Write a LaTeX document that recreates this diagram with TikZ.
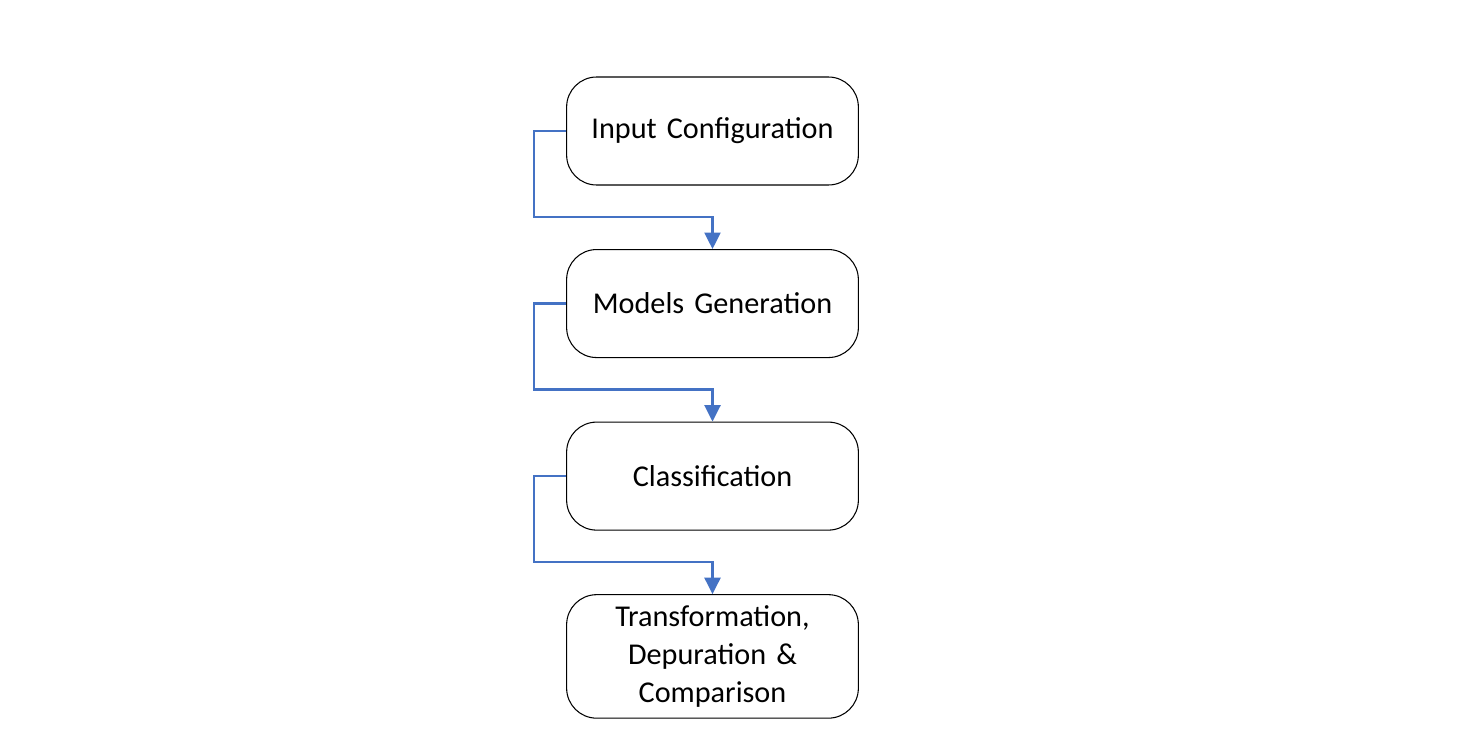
\documentclass[tikz,border=0pt]{standalone}
\usepackage{fontspec}
\setmainfont{Carlito}
\usepackage{tikz}
\usetikzlibrary{arrows.meta,positioning}
\definecolor{linkblue}{HTML}{4472C4}
\tikzstyle{block} = [rectangle, draw, line width=0.6pt, fill=white,
    text width=5.6cm, align=center, rounded corners=0.6cm,
    minimum width=5.82cm, minimum height=2.16cm,
    font=\fontsize{17.2}{21.5}\selectfont]
\tikzstyle{line} = [draw, linkblue, line width=1.4pt,
    -{Triangle[width=0.32cm,length=0.33cm]}]

\begin{document}
\begin{tikzpicture}[node distance=1.27cm]
    \useasboundingbox (0,0) rectangle (29.4,-14.98);
    % Place nodes
    \node [block] (input) at (14.25,-2.62) {Input Configuration};
    \node [block, below=of input] (models) {Models Generation};
    \node [block, below=of models] (classif) {Classification};
    \node [block, below=of classif, minimum height=2.47cm] (transf) {Transformation,\\ Depuration \&\\ Comparison};
    % Draw edges
    \path [line] (input.west) -- ++(-0.64,0) |- ([yshift=0.64cm]models.north) -- (models.north);
    \path [line] (models.west) -- ++(-0.64,0) |- ([yshift=0.64cm]classif.north) -- (classif.north);
    \path [line] (classif.west) -- ++(-0.64,0) |- ([yshift=0.64cm]transf.north) -- (transf.north);

\end{tikzpicture}
\end{document}
